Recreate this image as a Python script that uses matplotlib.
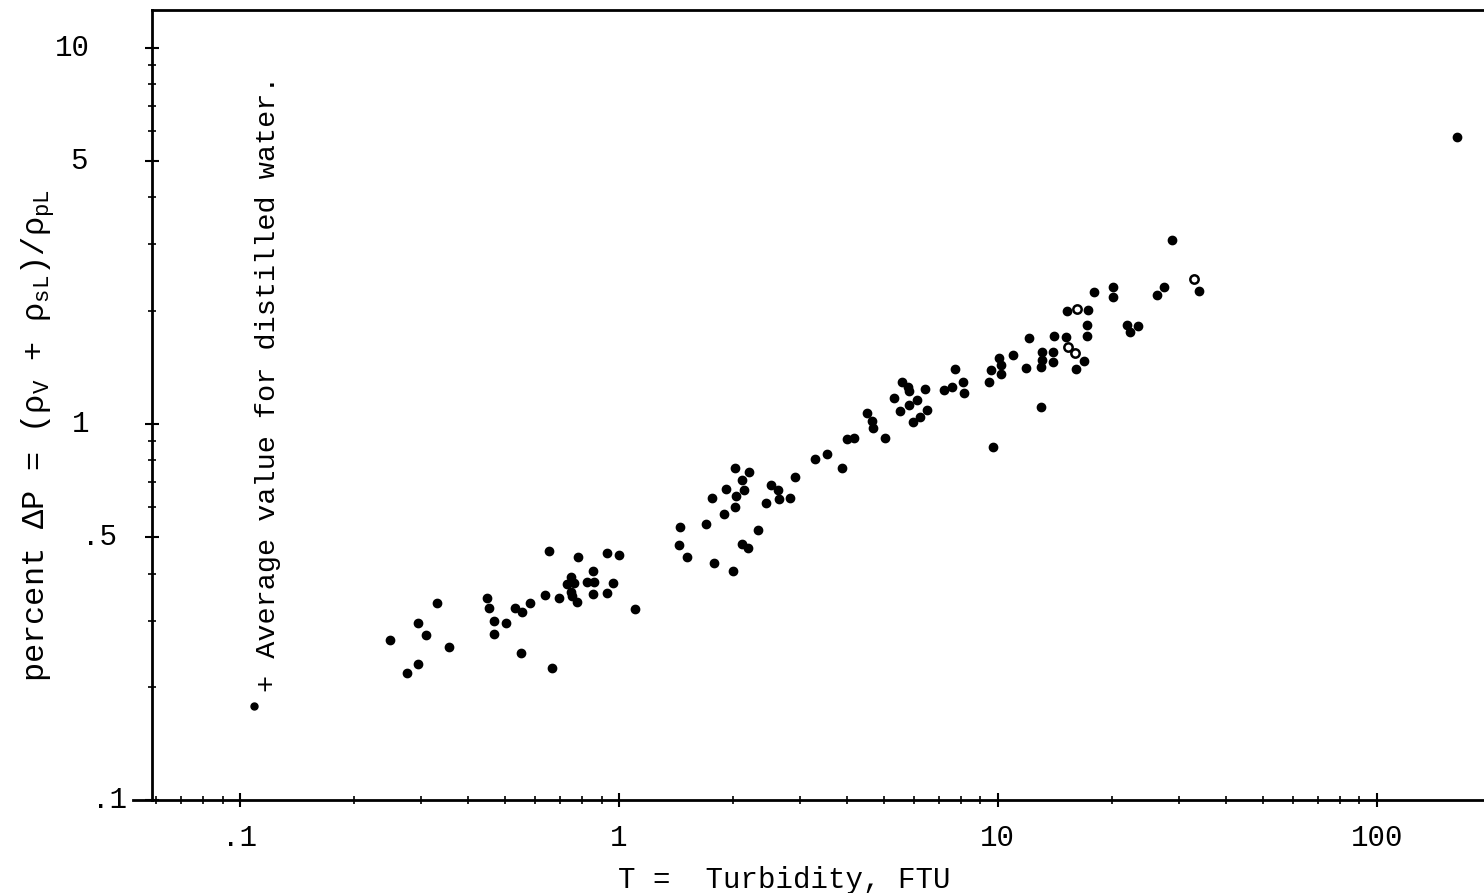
import matplotlib
matplotlib.use("Agg")
import matplotlib.pyplot as plt
import matplotlib.transforms as mtransforms
from matplotlib.ticker import LogLocator, NullFormatter

plt.rcParams['font.family'] = ['Liberation Mono', 'DejaVu Sans Mono']
plt.rcParams['mathtext.fontset'] = 'custom'
plt.rcParams['mathtext.rm'] = 'Liberation Mono'

# turbidity (FTU) and percent delta P, solid dots
turbidity = [0.331, 0.295, 0.249, 0.310, 0.356, 0.295, 0.276,
             0.449, 0.454, 0.468, 0.503, 0.468, 0.532, 0.555, 0.582, 0.551,
             0.638, 0.653, 0.665, 0.695, 0.746, 0.730, 0.760, 0.746, 0.751,
             0.774, 0.780, 0.824, 0.859, 0.853, 0.853, 0.929, 0.929, 0.964,
             1.00, 1.10,
             1.44, 1.45, 1.51, 1.70, 1.76, 1.78, 1.90, 1.92, 2.00, 2.02,
             2.02, 2.04, 2.11, 2.11, 2.14, 2.19, 2.20, 2.33, 2.44, 2.52,
             2.63, 2.64, 2.83, 2.91, 3.29, 3.54, 3.88, 4.00, 4.17, 4.51,
             4.65, 4.68, 5.03,
             5.32, 5.58, 5.79, 5.82, 6.42, 5.51, 5.82, 6.11, 5.97, 6.23,
             6.50, 7.70, 7.20, 7.56, 8.09, 8.13, 9.47, 9.59, 10.1, 10.2,
             10.2, 11.0, 11.9, 12.1, 13.0, 13.1, 13.1, 14.0, 14.0, 14.1,
             15.1, 16.1, 16.9, 13.0, 9.70, 15.2, 17.3, 17.2, 17.2, 17.9,
             20.2, 20.2, 22.0, 22.3, 23.4, 26.3, 27.4, 28.9, 33.9, 163]
delta_p = [0.334, 0.296, 0.267, 0.275, 0.255, 0.230, 0.218,
           0.344, 0.324, 0.299, 0.296, 0.276, 0.324, 0.316, 0.334, 0.246,
           0.351, 0.459, 0.224, 0.344, 0.392, 0.375, 0.378, 0.357, 0.349,
           0.337, 0.443, 0.380, 0.380, 0.406, 0.353, 0.454, 0.356, 0.378,
           0.449, 0.322,
           0.477, 0.532, 0.443, 0.542, 0.636, 0.427, 0.576, 0.672, 0.406, 0.764,
           0.601, 0.644, 0.710, 0.480, 0.668, 0.468, 0.745, 0.523, 0.616, 0.688,
           0.668, 0.632, 0.636, 0.723, 0.807, 0.832, 0.764, 0.912, 0.918, 1.07,
           1.02, 0.976, 0.918,
           1.17, 1.29, 1.25, 1.22, 1.24, 1.08, 1.12, 1.16, 1.01, 1.04,
           1.09, 1.40, 1.23, 1.25, 1.29, 1.21, 1.29, 1.39, 1.50, 1.43,
           1.36, 1.52, 1.41, 1.69, 1.42, 1.55, 1.48, 1.55, 1.46, 1.71,
           1.70, 1.40, 1.47, 1.11, 0.869, 2.00, 2.01, 1.83, 1.71, 2.24,
           2.31, 2.18, 1.83, 1.75, 1.82, 2.20, 2.31, 3.09, 2.26, 5.80]

# open circles
turbidity_open = [15.3, 16.0, 16.2, 32.9]
delta_p_open = [1.60, 1.54, 2.02, 2.43]

# average value for distilled water
distilled_t = [0.109]
distilled_p = [0.178]

x_ticks = [0.1, 1, 10, 100]
x_labels = ['.1', '1', '10', '100']
y_ticks = [0.1, 0.5, 1, 5, 10]
y_labels = ['.1', '.5', '1', '5', '10']

fig = plt.figure(figsize=(14.84, 8.93), dpi=100)
ax = fig.add_axes([152 / 1484, 93 / 893, 1 - 152 / 1484, 790 / 893])
ax.set_xscale('log')
ax.set_yscale('log')
ax.set_xlim(0.0586, 192)
ax.set_ylim(0.1, 12.6)

ax.plot(turbidity, delta_p, 'o', color='black', ms=6, mec='black')
ax.plot(turbidity_open, delta_p_open, 'o', mfc='white', mec='black', mew=1.8, ms=6)
ax.plot(distilled_t, distilled_p, 'o', color='black', ms=5)

for s in ['left', 'bottom', 'top']:
    ax.spines[s].set_linewidth(2.0)
ax.spines['right'].set_visible(False)
ax.plot([-0.014, 0], [0, 0], color='black', lw=2.0, transform=ax.transAxes, clip_on=False)

ax.set_xticks(x_ticks)
ax.set_xticklabels(x_labels)
ax.xaxis.set_minor_locator(LogLocator(base=10, subs=[2, 3, 4, 5, 6, 7, 8, 9]))
ax.xaxis.set_minor_formatter(NullFormatter())
ax.set_yticks(y_ticks)
ax.set_yticklabels([])
ax.yaxis.set_minor_locator(LogLocator(base=10, subs=[2, 3, 4, 6, 7, 8, 9]))
ax.yaxis.set_minor_formatter(NullFormatter())
ax.tick_params(which='major', direction='inout', length=10, width=1.5, labelsize=21, pad=12)
ax.tick_params(which='minor', direction='inout', length=6, width=1.2)

# y tick labels sit at uneven distances from the axis in the original
trans = mtransforms.blended_transform_factory(ax.transAxes, ax.transData)
label_x = [-0.019, -0.026, -0.047, -0.048, -0.047]
for yv, lab, lx in zip(y_ticks, y_labels, label_x):
    ax.text(lx, yv, lab, transform=trans, ha='right', va='center', fontsize=21)

ax.set_xlabel('T =  Turbidity, FTU', fontsize=21, va='center')
ax.xaxis.set_label_coords(0.475, -0.101)
ax.set_ylabel('percent \u0394P = (\u03c1$_\\mathrm{V}$ + \u03c1$_\\mathrm{sL}$)/\u03c1$_\\mathrm{pL}$',
              fontsize=23, va='center')
ax.yaxis.set_label_coords(-0.0856, 0.462)

ax.text(0.1186, 0.194, '+ Average value for distilled water.', rotation=90,
        ha='center', va='bottom', fontsize=20.5)

fig.savefig('out.png', dpi=100)
